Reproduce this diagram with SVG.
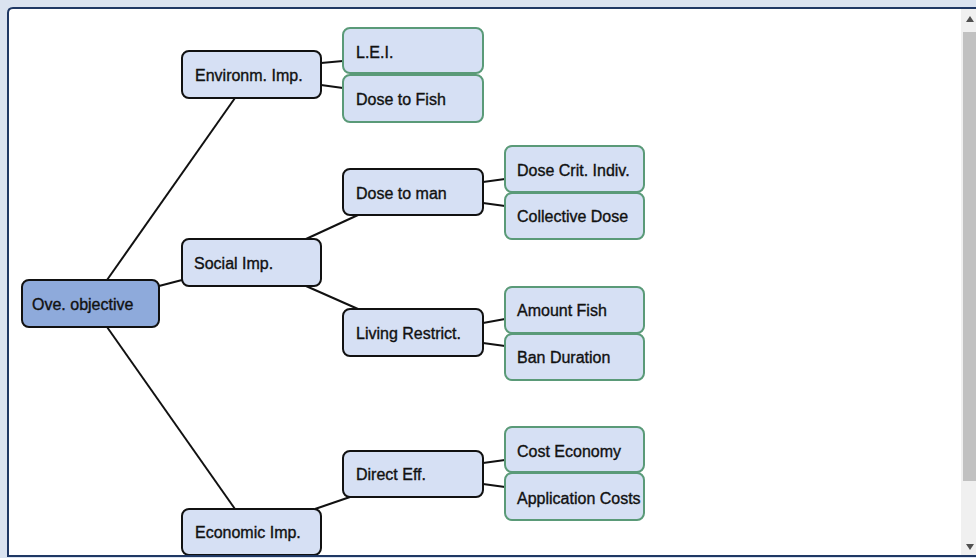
<svg xmlns="http://www.w3.org/2000/svg" width="976" height="558" viewBox="0 0 976 558">
<style>
text{font-family:"Liberation Sans",Arial,sans-serif;font-size:16px;fill:#111;stroke:#111;stroke-width:0.35}
.mid{fill:#d6e0f4;stroke:#111;stroke-width:2}
.leaf{fill:#d6e0f4;stroke:#5a9a78;stroke-width:2}
.root{fill:#8eaadb;stroke:#111;stroke-width:2}
#connectors line{stroke:#111;stroke-width:2}
</style>
<rect x="0" y="0" width="976" height="558" fill="#dae3f0"/>
<path d="M8,556 L8,13 Q8,8 13,8 L976,8 L976,556 Z" fill="#ffffff" stroke="#1f3864" stroke-width="2"/>
<rect x="961" y="9" width="15" height="546" fill="#f0f0f0"/>
<rect x="963" y="32" width="13" height="449" fill="#c1c1c1"/>
<path d="M966,22 L970,16 L974,22 Z" fill="#505050"/>
<path d="M966,544 L970,550 L974,544 Z" fill="#505050"/>
<g id="connectors">
<line x1="107" y1="280" x2="235" y2="98"/>
<line x1="159" y1="286" x2="182" y2="280"/>
<line x1="107" y1="327" x2="235" y2="509"/>
<line x1="321" y1="63" x2="343" y2="61"/>
<line x1="321" y1="85" x2="343" y2="88"/>
<line x1="306" y1="239" x2="358" y2="215"/>
<line x1="306" y1="286" x2="358" y2="309"/>
<line x1="483" y1="182" x2="505" y2="179"/>
<line x1="483" y1="203" x2="505" y2="206"/>
<line x1="483" y1="323" x2="505" y2="319"/>
<line x1="483" y1="343" x2="505" y2="346"/>
<line x1="315" y1="509" x2="350" y2="497"/>
<line x1="483" y1="463" x2="505" y2="460"/>
<line x1="483" y1="484" x2="505" y2="487"/>
</g>
<g id="ove"><rect class="root" x="22" y="280" width="137" height="47" rx="7"/><text x="32" y="310">Ove. objective</text></g>
<g id="env"><rect class="mid" x="182" y="51" width="139" height="47" rx="7"/><text x="195" y="81">Environm. Imp.</text></g>
<g id="social"><rect class="mid" x="182" y="239" width="139" height="47" rx="7"/><text x="194" y="269">Social Imp.</text></g>
<g id="econ"><rect class="mid" x="182" y="509" width="139" height="46" rx="7"/><text x="195" y="538">Economic Imp.</text></g>
<g id="lei"><rect class="leaf" x="343" y="28" width="140" height="45" rx="7"/><text x="356" y="58">L.E.I.</text></g>
<g id="dosefish"><rect class="leaf" x="343" y="75" width="140" height="47" rx="7"/><text x="356" y="105">Dose to Fish</text></g>
<g id="doseman"><rect class="mid" x="343" y="169" width="140" height="46" rx="7"/><text x="356" y="199">Dose to man</text></g>
<g id="living"><rect class="mid" x="343" y="309" width="140" height="47" rx="7"/><text x="356" y="339">Living Restrict.</text></g>
<g id="direct"><rect class="mid" x="343" y="451" width="140" height="46" rx="7"/><text x="356" y="480">Direct Eff.</text></g>
<g id="crit"><rect class="leaf" x="505" y="146" width="139" height="46" rx="7"/><text x="517" y="176">Dose Crit. Indiv.</text></g>
<g id="collective"><rect class="leaf" x="505" y="193" width="139" height="46" rx="7"/><text x="517" y="222">Collective Dose</text></g>
<g id="amount"><rect class="leaf" x="505" y="287" width="139" height="46" rx="7"/><text x="517" y="316">Amount Fish</text></g>
<g id="ban"><rect class="leaf" x="505" y="334" width="139" height="46" rx="7"/><text x="517" y="363">Ban Duration</text></g>
<g id="cost"><rect class="leaf" x="505" y="427" width="139" height="45" rx="7"/><text x="517" y="457">Cost Economy</text></g>
<g id="app"><rect class="leaf" x="505" y="473" width="139" height="47" rx="7"/><text x="517" y="504">Application Costs</text></g>
<line x1="8" y1="556" x2="961" y2="556" stroke="#1f3864" stroke-width="2"/>
</svg>
